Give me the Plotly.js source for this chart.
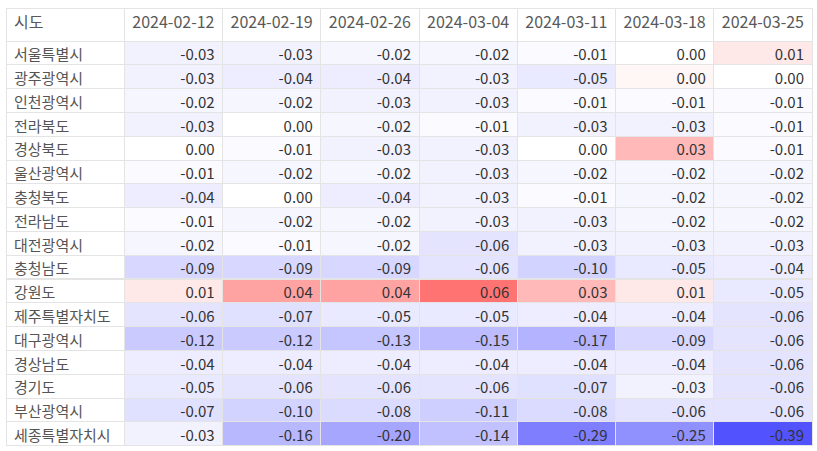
<!DOCTYPE html>
<html>
<head>
<meta charset="utf-8">
<script src="https://cdn.plot.ly/plotly-3.0.1.min.js"></script>
<style>
  html, body { margin: 0; padding: 0; background: #fff; }
  #chart { width: 817px; height: 451px; }
</style>
</head>
<body>
<div id="chart"></div>
<script>
// region names (row labels)
var regions = ['서울특별시', '광주광역시', '인천광역시', '전라북도', '경상북도', '울산광역시',
    '충청북도', '전라남도', '대전광역시', '충청남도', '강원도', '제주특별자치도',
    '대구광역시', '경상남도', '경기도', '부산광역시', '세종특별자치시'];

var dates = ['2024-02-12', '2024-02-19', '2024-02-26', '2024-03-04', '2024-03-11', '2024-03-18', '2024-03-25'];

// weekly change per region, one array per week
var w0212 = [-0.03, -0.03, -0.02, -0.03, 0.00, -0.01, -0.04, -0.01, -0.02, -0.09, 0.01, -0.06, -0.12, -0.04, -0.05, -0.07, -0.03];
var w0219 = [-0.03, -0.04, -0.02, 0.00, -0.01, -0.02, 0.00, -0.02, -0.01, -0.09, 0.04, -0.07, -0.12, -0.04, -0.06, -0.10, -0.16];
var w0226 = [-0.02, -0.04, -0.03, -0.02, -0.03, -0.02, -0.04, -0.02, -0.02, -0.09, 0.04, -0.05, -0.13, -0.04, -0.06, -0.08, -0.20];
var w0304 = [-0.02, -0.03, -0.03, -0.01, -0.03, -0.03, -0.03, -0.03, -0.06, -0.06, 0.06, -0.05, -0.15, -0.04, -0.06, -0.11, -0.14];
var w0311 = [-0.01, -0.05, -0.01, -0.03, 0.00, -0.02, -0.01, -0.03, -0.03, -0.10, 0.03, -0.04, -0.17, -0.04, -0.07, -0.08, -0.29];
var w0318 = [0.00, 0.004, -0.01, -0.03, 0.03, -0.02, -0.02, -0.02, -0.03, -0.05, 0.01, -0.04, -0.09, -0.04, -0.03, -0.06, -0.25];
var w0325 = [0.01, 0.00, -0.01, -0.01, -0.01, -0.02, -0.02, -0.02, -0.03, -0.04, -0.05, -0.06, -0.06, -0.06, -0.06, -0.06, -0.39];

var weeks = [w0212, w0219, w0226, w0304, w0311, w0318, w0325];

// blue-white-red, white at zero
function cellColor(v) {
    var t, c;
    if (v < 0) {
        t = Math.min(1, -v / 0.39) * 0.68;
        c = Math.round(255 * (1 - t));
        return 'rgb(' + c + ',' + c + ',255)';
    }
    t = Math.min(1, v / 0.06) * 0.55;
    c = Math.round(255 * (1 - t));
    return 'rgb(255,' + c + ',' + c + ')';
}

var cellValues = [regions].concat(weeks.map(function (w) {
    return w.map(function (v) { return v.toFixed(2); });
}));
var cellFill = [regions.map(function () { return '#ffffff'; })].concat(weeks.map(function (w) {
    return w.map(cellColor);
}));

var trace = {
    type: 'table',
    columnwidth: [118, 98, 98, 98, 98, 98, 98, 98],
    header: {
        values: ['시도'].concat(dates),
        align: ['left', 'center'],
        height: 33,
        fill: {color: '#ffffff'},
        line: {color: '#e4e4e4', width: 1},
        font: {family: 'Noto Sans CJK KR, sans-serif', size: 16, color: '#595959'}
    },
    cells: {
        values: cellValues,
        align: ['left', 'right'],
        height: 23.8,
        fill: {color: cellFill},
        line: {color: '#e4e4e4', width: 1},
        font: {family: 'Noto Sans CJK KR, sans-serif', size: 15, color: ['#555555', '#333333']}
    }
};

var layout = {
    width: 817,
    height: 451,
    margin: {l: 6, r: 5, t: 8, b: 0},
    paper_bgcolor: '#ffffff'
};

Plotly.newPlot('chart', [trace], layout, {displayModeBar: false, staticPlot: true});
</script>
</body>
</html>
